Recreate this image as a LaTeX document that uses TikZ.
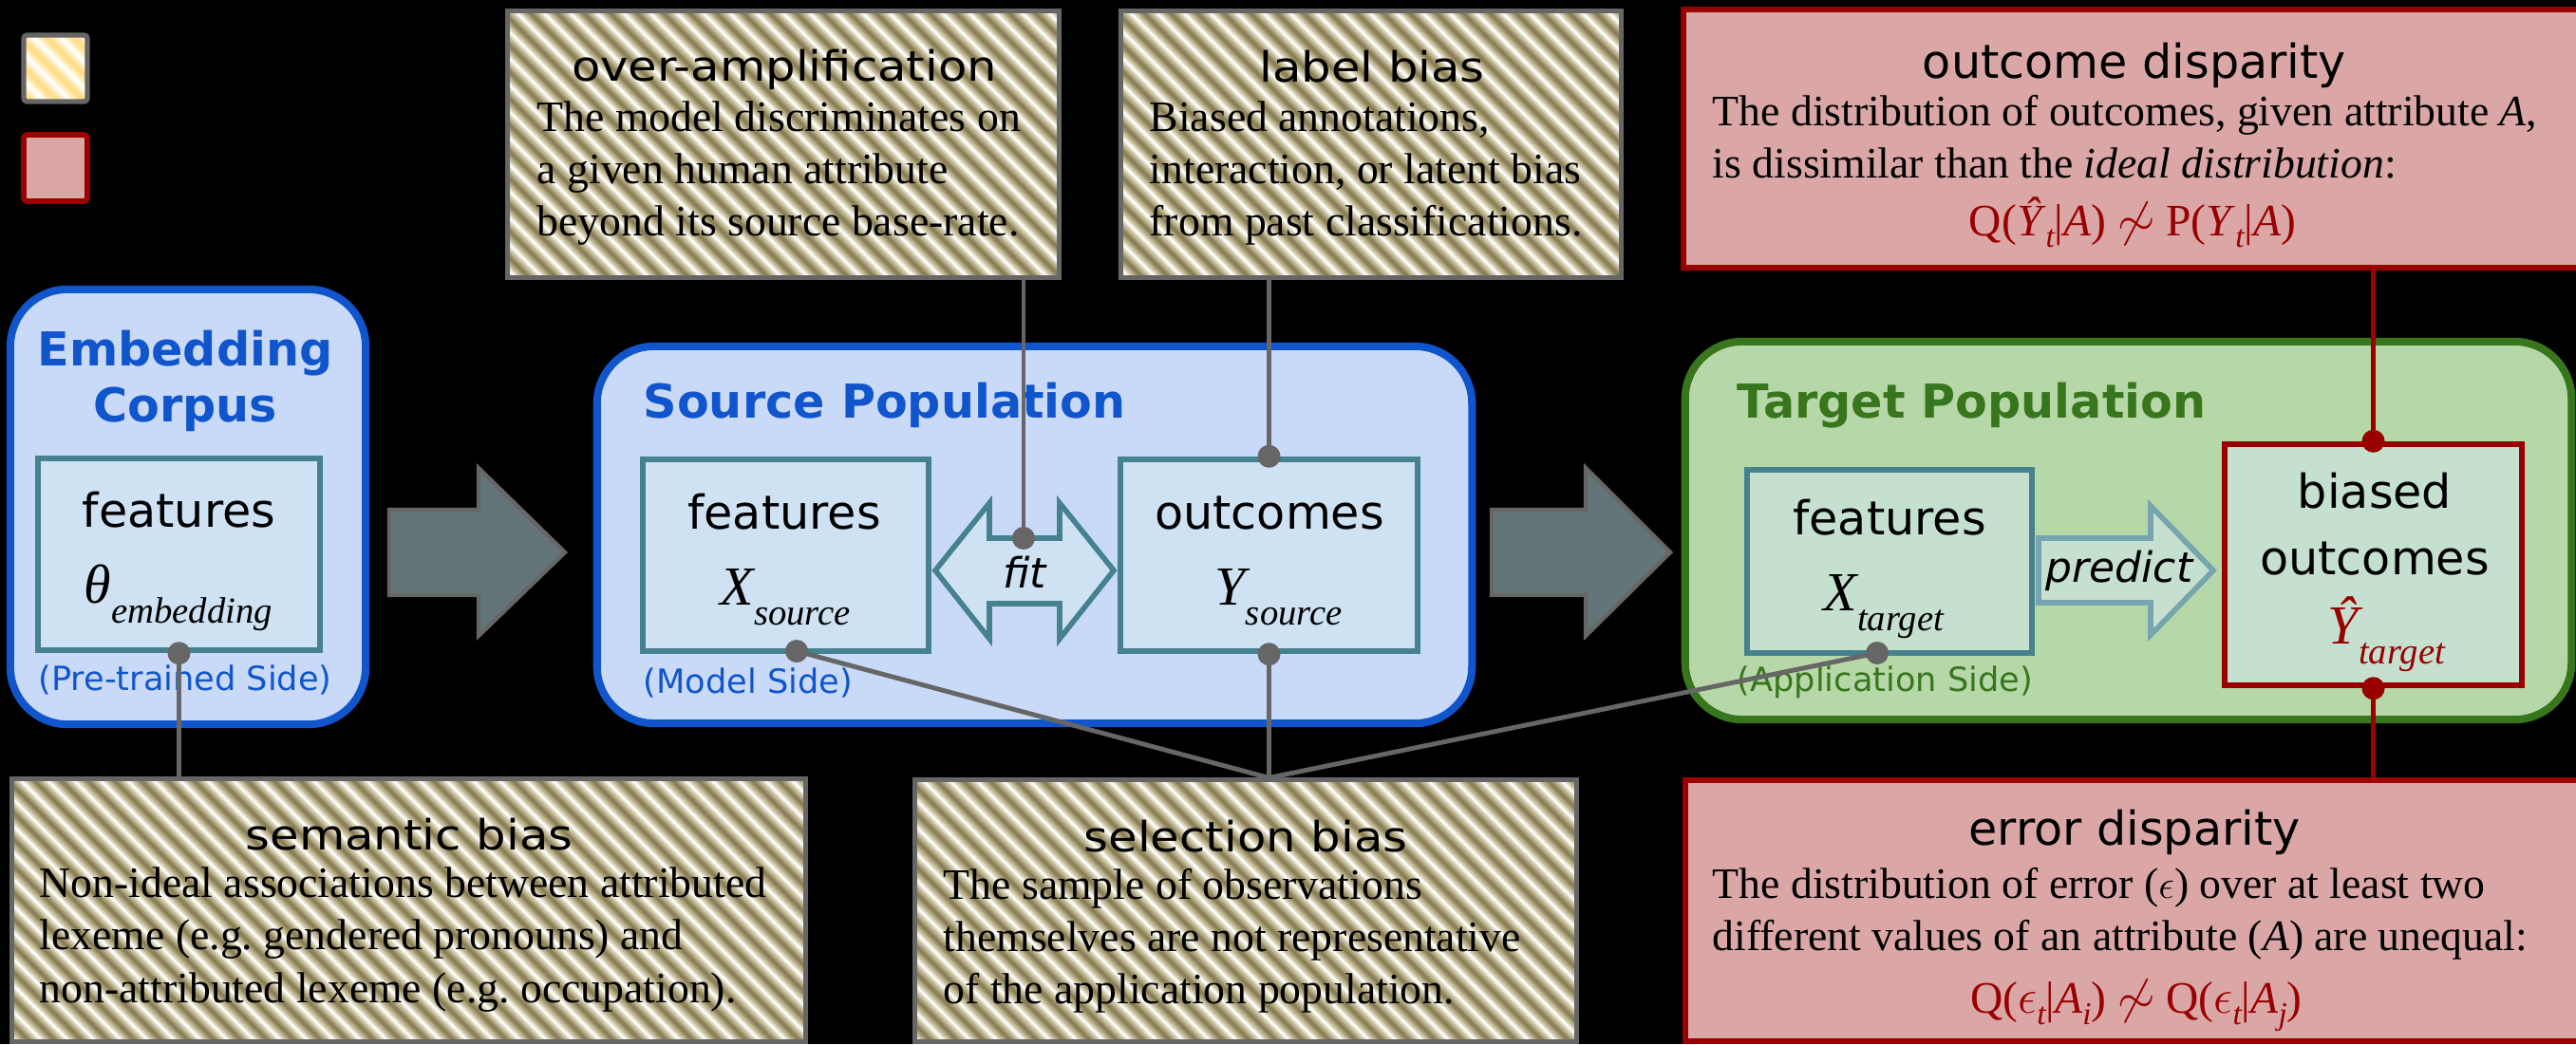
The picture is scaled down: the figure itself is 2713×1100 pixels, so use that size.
\documentclass[tikz,border=0pt]{standalone}
\usepackage{fontspec}
\setmainfont{Liberation Serif}
\setsansfont{DejaVu Sans}
\newfontfamily\widesans{DejaVu Sans}[FakeStretch=1.13]
\usepackage{xcolor}
\usepackage{tikz}
\usetikzlibrary{calc}

\definecolor{golddark}{RGB}{140,128,88}
\definecolor{goldA}{RGB}{165,154,116}
\definecolor{goldB}{RGB}{190,181,146}
\definecolor{goldC}{RGB}{214,208,180}
\definecolor{goldD}{RGB}{236,233,220}
\definecolor{legdark}{RGB}{255,220,135}
\definecolor{legA}{RGB}{255,228,160}
\definecolor{legB}{RGB}{255,236,185}
\definecolor{legC}{RGB}{255,244,212}
\definecolor{legD}{RGB}{255,251,238}
\definecolor{boxgray}{RGB}{102,102,102}
\definecolor{redline}{RGB}{153,0,0}
\definecolor{redfill}{RGB}{218,166,166}
\definecolor{bluefill}{RGB}{201,218,248}
\definecolor{blueline}{RGB}{17,85,204}
\definecolor{innerfill}{RGB}{207,226,243}
\definecolor{tealline}{RGB}{69,129,142}
\definecolor{greenfill}{RGB}{182,215,168}
\definecolor{greenline}{RGB}{56,118,29}
\definecolor{mintfill}{RGB}{197,224,206}
\definecolor{arrowfill}{RGB}{99,117,120}
\definecolor{predline}{RGB}{118,165,175}

% big symbol with a lowered subscript
\newcommand{\symsub}[2]{{\fontsize{16.5}{18}\selectfont\itshape #1}\raisebox{-6pt}{\fontsize{11}{12}\selectfont\itshape #2}}
\newcommand{\fsub}[1]{\raisebox{-3.5pt}{\fontsize{9.5}{10}\selectfont\itshape #1}}

\tikzset{
  goldstripes/.style n args={4}{path picture={
      \foreach \k in {0,...,44}{
        \coordinate (s) at ($(path picture bounding box.north west)+(\k*28-320,-20)$);
        \draw[#1, line width=4.5pt] (s) -- ++(340,340);
        \draw[#2, line width=3.4pt] (s) -- ++(340,340);
        \draw[#3, line width=2.25pt] (s) -- ++(340,340);
        \draw[#4, line width=1.25pt] (s) -- ++(340,340);
        \draw[white, line width=0.45pt] (s) -- ++(340,340);
      }}},
  goldbox/.style={draw=boxgray, line width=1.4pt, fill=golddark, goldstripes={goldA}{goldB}{goldC}{goldD}, inner sep=0pt},
  redbox/.style={draw=redline, line width=1.6pt, fill=redfill, inner sep=0pt},
  container/.style={rounded corners=0.6cm, line width=2.3pt, inner sep=0pt},
  featbox/.style={draw=tealline, line width=1.8pt, fill=innerfill, inner sep=0pt},
  bigarrow/.style={draw=boxgray, line width=1.2pt, fill=arrowfill},
  fitarrow/.style={draw=tealline, line width=1.6pt, fill=innerfill},
  predarrow/.style={draw=predline, line width=1.6pt, fill=mintfill},
  boxtitle/.style={font=\widesans\fontsize{12.5}{15}\selectfont, anchor=base, inner sep=0pt},
  redtitle/.style={font=\sffamily\fontsize{14}{16}\selectfont, anchor=base, inner sep=0pt},
  bodytext/.style={font=\fontsize{13}{15.65}\selectfont, align=left, anchor=north west, inner sep=0pt, execute at begin node=\strut},
  formula/.style={font=\fontsize{13.5}{16}\selectfont, text=redline, anchor=base, inner sep=0pt},
  contitle/.style={font=\sffamily\bfseries\fontsize{14}{16.8}\selectfont, inner sep=0pt},
  sidelabel/.style={font=\sffamily\fontsize{10}{12}\selectfont, anchor=base west, inner sep=0pt},
  inlabel/.style={font=\sffamily\fontsize{14}{16}\selectfont, anchor=base, inner sep=0pt},
  symtext/.style={anchor=base west, inner sep=0pt},
  arrowtext/.style={font=\sffamily\itshape\fontsize{12.5}{14}\selectfont, anchor=base, inner sep=0pt},
  conn/.style={draw=boxgray, line width=1.4pt},
  redconn/.style={draw=redline, line width=1.6pt}
}

\begin{document}
\begin{tikzpicture}[x=0.01cm, y=-0.01cm]
  \useasboundingbox (0,0) rectangle (2713,1100);
  \fill[black] (0,0) rectangle (2713,1100);

  % legend
  \node[draw=boxgray, line width=1.5pt, fill=legdark, goldstripes={legA}{legB}{legC}{legD}, rounded corners=1pt,
        minimum width=0.67cm, minimum height=0.70cm, inner sep=0pt] (legY) at (58.5,72) {};
  \node[redbox, rounded corners=1pt, minimum width=0.67cm, minimum height=0.70cm] (legR) at (58.5,177) {};

  % bias boxes
  \node[goldbox, minimum width=5.80cm, minimum height=2.80cm] (overamp) at (825,152) {};
  \node[goldbox, minimum width=5.26cm, minimum height=2.80cm] (labelbias) at (1444,152) {};
  \node[goldbox, minimum width=8.35cm, minimum height=2.76cm] (semantic) at (430.5,959) {};
  \node[goldbox, minimum width=6.96cm, minimum height=2.75cm] (selection) at (1312,959.5) {};
  \node[redbox, minimum width=9.50cm, minimum height=2.72cm] (outdisp) at (2248,146) {};
  \node[redbox, minimum width=9.50cm, minimum height=2.75cm] (errdisp) at (2250,959.5) {};

  % populations
  \node[container, draw=blueline, fill=bluefill, minimum width=3.74cm, minimum height=4.58cm] (embed) at (198,534) {};
  \node[container, draw=blueline, fill=bluefill, minimum width=9.21cm, minimum height=3.97cm] (source) at (1089.5,563.5) {};
  \node[container, draw=greenline, fill=greenfill, minimum width=9.33cm, minimum height=3.98cm] (target) at (2241.5,559) {};

  \node[featbox, minimum width=2.97cm, minimum height=2.02cm] (embFeat) at (188.5,584) {};
  \node[featbox, minimum width=3.01cm, minimum height=2.02cm] (srcFeat) at (827.5,585) {};
  \node[featbox, minimum width=3.13cm, minimum height=2.02cm] (srcOut) at (1336.5,585) {};
  \node[featbox, fill=mintfill, minimum width=3.00cm, minimum height=1.93cm] (tgtFeat) at (1990,591.5) {};
  \node[featbox, draw=redline, fill=mintfill, minimum width=3.13cm, minimum height=2.54cm] (tgtOut) at (2499.5,595) {};

  % arrows
  \foreach \ax/\bx/\cx in {410/504/595, 1571/1670/1759}
    \draw[bigarrow] (\ax,537) -- (\bx,537) -- (\bx,493) -- (\cx,582) -- (\bx,670) -- (\bx,627) -- (\ax,627) -- cycle;
  \draw[fitarrow] (985,601) -- (1042,530) -- (1042,567) -- (1116,567) -- (1116,530) -- (1173,601)
    -- (1116,673) -- (1116,636) -- (1042,636) -- (1042,673) -- cycle;
  \draw[predarrow] (2147,567) -- (2265,567) -- (2265,533) -- (2331,601) -- (2265,669) -- (2265,635) -- (2147,635) -- cycle;

  % box texts
  \node[boxtitle] (overampT) at (826,85) {over-amplification};
  \node[bodytext] (overampB) at (565,106.5) {The model discriminates on\\a given human attribute\\beyond its source base-rate.};
  \node[boxtitle] (labelT) at (1445,86) {label bias};
  \node[bodytext] (labelB) at (1210,106.5) {Biased annotations,\\interaction, or latent bias\\from past classifications.};
  \node[boxtitle] (semT) at (431,895) {semantic bias};
  \node[bodytext] (semB) at (41,913.5) {Non-ideal associations between attributed\\lexeme (e.g.\ gendered pronouns) and\\non-attributed lexeme (e.g.\ occupation).};
  \node[boxtitle] (selT) at (1312,897) {selection bias};
  \node[bodytext] (selB) at (993,914.5) {The sample of observations\\themselves are not representative\\of the application population.};
  \node[redtitle] (outT) at (2248,82) {outcome disparity};
  \node[bodytext] (outB) at (1803,99.5) {The distribution of outcomes, given attribute \textit{A},\\is dissimilar than the \textit{ideal distribution}:};
  \node[formula] (outF) at (2246,248) {Q(\textit{\^Y}\fsub{t}|\textit{A}) $\not\sim$ P(\textit{Y}\fsub{t}|\textit{A})};
  \node[redtitle] (errT) at (2248,890) {error disparity};
  \node[bodytext] (errB) at (1803,913.5) {The distribution of error ($\epsilon$) over at least two\\different values of an attribute (\textit{A}) are unequal:};
  \node[formula] (errF) at (2250,1067) {Q($\epsilon$\fsub{t}|\textit{A}\fsub{i}) $\not\sim$ Q($\epsilon$\fsub{t}|\textit{A}\fsub{j})};

  % population texts
  \node[contitle, text=blueline, anchor=base] (embT1) at (195,385) {Embedding};
  \node[contitle, text=blueline, anchor=base] (embT2) at (195,444) {Corpus};
  \node[contitle, text=blueline, anchor=base west] (srcT) at (677,440) {Source Population};
  \node[contitle, text=greenline, anchor=base west] (tgtT) at (1829,440) {Target Population};
  \node[sidelabel, text=blueline, anchor=base] (embS) at (195,727) {(Pre-trained Side)};
  \node[sidelabel, text=blueline] (srcS) at (677,730) {(Model Side)};
  \node[sidelabel, text=greenline] (tgtS) at (1829,728) {(Application Side)};

  \node[inlabel] (embFeatT) at (188.5,555) {features};
  \node[symtext] (embSym) at (88,635) {\symsub{θ}{embedding}};
  \node[inlabel] (srcFeatT) at (826,557) {features};
  \node[symtext] (srcSymX) at (758,637) {\symsub{X}{source}};
  \node[inlabel] (srcOutT) at (1337,557) {outcomes};
  \node[symtext] (srcSymY) at (1279,637) {\symsub{Y}{source}};
  \node[inlabel] (tgtFeatT) at (1990,563) {features};
  \node[symtext] (tgtSymX) at (1920,643) {\symsub{X}{target}};
  \node[inlabel] (tgtOutT1) at (2501,535) {biased};
  \node[inlabel] (tgtOutT2) at (2501,605) {outcomes};
  \node[symtext, text=redline] (tgtSymY) at (2451,678) {\symsub{\^Y}{target}};
  \node[arrowtext] (fitT) at (1079,619) {fit};
  \node[arrowtext] (predT) at (2232,613) {predict};

  % connectors
  \coordinate (fitDot) at (1078,567);
  \coordinate (srcFeatDot) at (839,686);
  \coordinate (tgtFeatDot) at (1977,688);
  \coordinate (selTop) at (srcOut.south |- selection.north);
  \draw[conn] (overamp.south -| fitDot) -- (fitDot);
  \draw[conn] (labelbias.south -| srcOut.north) -- (srcOut.north);
  \draw[conn] (embFeat.south) -- (embFeat.south |- semantic.north);
  \foreach \p in {srcFeatDot, srcOut.south, tgtFeatDot}
    \draw[conn] (\p) -- (selTop);
  \draw[redconn] (outdisp.south -| tgtOut.north) -- (tgtOut.north);
  \draw[redconn] (tgtOut.south) -- (errdisp.north -| tgtOut.south);
  \foreach \p in {fitDot, srcOut.north, srcOut.south, srcFeatDot, tgtFeatDot, embFeat.south}
    \fill[boxgray] (\p) circle[radius=0.12cm];
  \foreach \p in {tgtOut.north, tgtOut.south}
    \fill[redline] (\p) circle[radius=0.12cm];
\end{tikzpicture}
\end{document}
